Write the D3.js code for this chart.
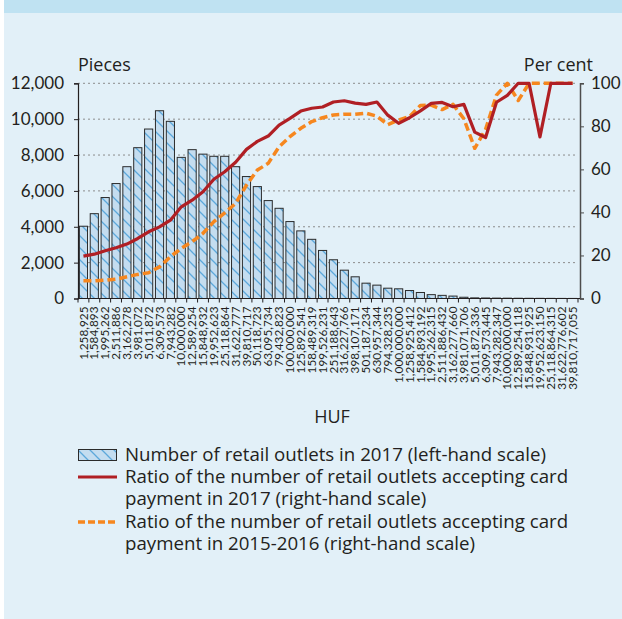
<!DOCTYPE html>
<meta charset="utf-8">
<script src="https://d3js.org/d3.v7.min.js"></script>
<style>
  body { margin: 0; background: #fff; }
  text { font-family: Lato, "Open Sans", sans-serif; fill: #231f20; }
  .lbl { font-family: "Open Sans", Lato, sans-serif; font-size: 18px; }
  .leg { font-size: 18.7px; }
</style>
<div id="my_dataviz"></div>
<script>

// category labels (HUF), one per bar
var categories = ["1,258,925", "1,584,893", "1,995,262", "2,511,886", "3,162,278", "3,981,072",
  "5,011,872", "6,309,573", "7,943,282", "10,000,000", "12,589,254", "15,848,932", "19,952,623",
  "25,118,864", "31,622,777", "39,810,717", "50,118,723", "63,095,734", "79,432,823", "100,000,000",
  "125,892,541", "158,489,319", "199,526,231", "251,188,643", "316,227,766", "398,107,171",
  "501,187,234", "630,957,344", "794,328,235", "1,000,000,000", "1,258,925,412", "1,584,893,192",
  "1,995,262,315", "2,511,886,432", "3,162,277,660", "3,981,071,706", "5,011,872,336",
  "6,309,573,445", "7,943,282,347", "10,000,000,000", "12,589,254,118", "15,848,931,925",
  "19,952,623,150", "25,118,864,315", "31,622,776,602", "39,810,717,055"];

// number of retail outlets in 2017 (pieces, left-hand scale)
var outlets2017 = [4030, 4730, 5630, 6410, 7350, 8410, 9450, 10470, 9880, 7870, 8300, 8050, 7930,
  7930, 7350, 6800, 6240, 5460, 5030, 4290, 3770, 3300, 2680, 2160, 1580, 1210, 855, 745, 575, 540,
  445, 335, 215, 175, 135, 70, 35, 28, 22, 18, 14, 11, 9, 7, 5, 4];

// ratio accepting card payment in 2017 (per cent, right-hand scale)
var ratio2017 = [19.7, 20.6, 22.2, 23.6, 25.3, 27.9, 31.0, 33.3, 36.4, 42.6, 45.7, 49.6, 55.4, 58.9,
  63.3, 69.3, 73.0, 75.5, 80.6, 83.7, 87.1, 88.4, 89.0, 91.3, 91.9, 90.8, 90.2, 91.3, 85.2, 81.4,
  84.0, 87.2, 90.7, 91.1, 89.1, 90.2, 77.3, 74.8, 91.2, 94.4, 100, 100, 75.1, 100, 100, 100];

// ratio accepting card payment in 2015-2016 (per cent, right-hand scale)
var ratio2015 = [8.2, 8.2, 8.5, 9.0, 10.1, 11.2, 12.0, 14.7, 19.4, 23.3, 26.4, 30.3, 35.7, 39.8,
  44.2, 52.7, 59.7, 62.8, 70.5, 75.2, 79.1, 82.2, 84.0, 85.3, 85.6, 85.6, 86.1, 84.7, 80.8, 83.0,
  84.5, 89.7, 89.9, 87.8, 90.2, 83.5, 69.8, 78.6, 94.5, 100, 92.0, 100, 100, 100, 100, 100];

var leftTicks = [0, 2000, 4000, 6000, 8000, 10000, 12000];
var rightTicks = [0, 20, 40, 60, 80, 100];

var W = 622, H = 619;

var svg = d3.select("#my_dataviz")
  .append("svg")
  .attr("width", W)
  .attr("height", H);

// panel background + header strip
svg.append("rect").attr("x", 4).attr("y", 0).attr("width", W - 4).attr("height", H).attr("fill", "#e2f0f8");
svg.append("rect").attr("x", 4).attr("y", 0).attr("width", W - 4).attr("height", 13).attr("fill", "#bfe2f2");

// hatch pattern for bars
var defs = svg.append("defs");
var pat = defs.append("pattern")
  .attr("id", "hatch")
  .attr("patternUnits", "userSpaceOnUse")
  .attr("width", 12).attr("height", 12);
pat.append("rect").attr("width", 12).attr("height", 12).attr("fill", "#c4ddf0");
pat.append("path")
  .attr("d", "M0,0L12,12M-2,10L2,14M10,-2L14,2")
  .attr("stroke", "#5ca8db").attr("stroke-width", 1.3);

var x = d3.scaleBand()
  .domain(categories)
  .range([78, 578])
  .paddingInner(0.25)
  .paddingOuter(0.125);

var yL = d3.scaleLinear().domain([0, 12000]).range([298.5, 83.3]);
var yR = d3.scaleLinear().domain([0, 100]).range([298.5, 83.3]);

// dotted gridlines
svg.append("g")
  .selectAll("line")
  .data(leftTicks.slice(1))
  .enter()
  .append("line")
  .attr("x1", 78).attr("x2", 578)
  .attr("y1", function(d) { return yL(d); })
  .attr("y2", function(d) { return yL(d); })
  .attr("stroke", "#8c8c8c")
  .attr("stroke-width", 1)
  .attr("stroke-dasharray", "2,3");

// bars
svg.append("g")
  .selectAll("rect")
  .data(outlets2017)
  .enter()
  .append("rect")
  .attr("x", function(d, i) { return x(categories[i]); })
  .attr("y", function(d) { return yL(d); })
  .attr("width", x.bandwidth())
  .attr("height", function(d) { return yL(0) - yL(d); })
  .attr("fill", "url(#hatch)")
  .attr("stroke", "#2b2b2b")
  .attr("stroke-width", 1);

// left axis
var axL = svg.append("g")
  .attr("transform", "translate(78,0)")
  .call(d3.axisLeft(yL).tickValues(leftTicks).tickSize(4).tickPadding(10).tickFormat(d3.format(",")));
axL.select(".domain").attr("stroke", "#231f20").attr("stroke-width", 1.2);
axL.selectAll(".tick line").attr("stroke", "#231f20");
axL.selectAll("text").style("font-size", "17px").attr("fill", "#231f20");

// right axis
var axR = svg.append("g")
  .attr("transform", "translate(580,0)")
  .call(d3.axisRight(yR).tickValues(rightTicks).tickSize(4).tickPadding(7));
axR.select(".domain").attr("stroke", "#4d4d4d").attr("stroke-width", 1.5);
axR.selectAll(".tick line").attr("stroke", "#4d4d4d");
axR.selectAll("text").style("font-size", "17px").attr("fill", "#231f20");

// bottom axis
var axB = svg.append("g")
  .attr("transform", "translate(0,298.5)")
  .call(d3.axisBottom(x).tickSize(0).tickPadding(0));
axB.select(".domain").remove();
svg.append("line").attr("x1", 78).attr("x2", 580).attr("y1", 298.5).attr("y2", 298.5)
  .attr("stroke", "#231f20").attr("stroke-width", 1.2);
// tick marks between categories
svg.append("g")
  .selectAll("line")
  .data(d3.range(categories.length + 1))
  .enter()
  .append("line")
  .attr("x1", function(i) { return 78 + i * x.step(); })
  .attr("x2", function(i) { return 78 + i * x.step(); })
  .attr("y1", 298.5).attr("y2", 302.5)
  .attr("stroke", "#231f20");
axB.selectAll("text")
  .attr("transform", "rotate(-90)")
  .attr("text-anchor", "end")
  .attr("x", -8)
  .attr("y", 0)
  .attr("dy", "0.35em")
  .style("font-size", "11.8px");

// lines
var line = function(vals) {
  return d3.line()
    .x(function(d, i) { return x(categories[i]) + x.bandwidth() / 2; })
    .y(function(d) { return yR(d); })(vals);
};

svg.append("path")
  .attr("d", line(ratio2015))
  .attr("fill", "none")
  .attr("stroke", "#f6871f")
  .attr("stroke-width", 3.5)
  .attr("stroke-dasharray", "8,4")
  .attr("stroke-linejoin", "round");

svg.append("path")
  .attr("d", line(ratio2017))
  .attr("fill", "none")
  .attr("stroke", "#b01f24")
  .attr("stroke-width", 3.2)
  .attr("stroke-linejoin", "round");

// axis titles
svg.append("text").attr("class", "lbl").attr("x", 78).attr("y", 71).text("Pieces");
svg.append("text").attr("class", "lbl").attr("x", 593).attr("y", 71).attr("text-anchor", "end").text("Per cent");
svg.append("text").attr("class", "lbl").attr("x", 332).attr("y", 423).attr("text-anchor", "middle").text("HUF");

// legend
var lg = svg.append("g");
lg.append("rect").attr("x", 78.5).attr("y", 449.5).attr("width", 38).attr("height", 11)
  .attr("fill", "url(#hatch)").attr("stroke", "#2b2b2b");
lg.append("line").attr("x1", 78).attr("x2", 117).attr("y1", 477).attr("y2", 477)
  .attr("stroke", "#b01f24").attr("stroke-width", 3.2);
lg.append("line").attr("x1", 78).attr("x2", 117).attr("y1", 522).attr("y2", 522)
  .attr("stroke", "#f6871f").attr("stroke-width", 3.5).attr("stroke-dasharray", "7,3");

var legendLines = [
  ["Number of retail outlets in 2017 (left-hand scale)", 460.5],
  ["Ratio of the number of retail outlets accepting card", 483.3],
  ["payment in 2017 (right-hand scale)", 505],
  ["Ratio of the number of retail outlets accepting card", 528.3],
  ["payment in 2015-2016 (right-hand scale)", 550]
];
lg.selectAll("text.leg")
  .data(legendLines)
  .enter()
  .append("text")
  .attr("class", "lbl leg")
  .attr("x", 125)
  .attr("y", function(d) { return d[1]; })
  .text(function(d) { return d[0]; });

</script>
